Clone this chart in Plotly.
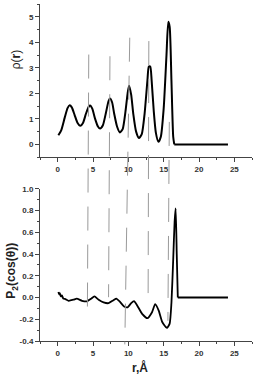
import plotly.graph_objects as go

# rho(r) panel
r_top = [0.1, 0.5, 1.0, 1.4, 1.7, 2.0, 2.4, 2.8, 3.2, 3.6, 4.0, 4.4, 4.6, 4.9, 5.3, 5.7, 6.0,
         6.4, 6.8, 7.2, 7.4, 7.7, 8.0, 8.4, 8.8, 9.2, 9.6, 9.9, 10.1, 10.4, 10.7, 11.1, 11.5,
         11.9, 12.3, 12.7, 12.9, 13.1, 13.3, 13.6, 13.9, 14.25, 14.6, 15.0, 15.4, 15.65, 15.85,
         16.1, 16.35, 16.5]
rho = [0.36, 0.55, 1.05, 1.42, 1.53, 1.45, 1.15, 0.85, 0.73, 0.85, 1.2, 1.48, 1.52, 1.4, 1.0, 0.7, 0.62,
       0.75, 1.2, 1.7, 1.8, 1.65, 1.2, 0.7, 0.47, 0.6, 1.3, 2.0, 2.3, 1.95, 1.2, 0.5, 0.25,
       0.4, 1.2, 2.5, 3.05, 3.05, 2.5, 1.3, 0.45, 0.1, 0.3, 1.4, 3.5, 4.8, 4.6,
       2.5, 0.3, 0.0]
r_top_flat = [16.5, 24.1]
rho_flat = [0.0, 0.0]

# P2(cos(theta)) panel
r_bot = [0.1, 0.2, 0.3, 0.45, 0.6, 0.8, 1.1, 1.55, 2.25, 2.7, 3.45, 4.15, 4.7, 5.2, 5.8, 6.5, 7.2,
         7.9, 8.3, 8.85, 9.4, 9.9, 10.4, 10.8, 11.25, 11.95, 12.7, 13.35, 13.8, 14.3, 14.8,
         15.45, 15.85, 16.1, 16.35, 16.55, 16.7, 16.85, 17.0]
p2 = [0.05, 0.03, 0.04, 0.01, 0.02, -0.01, -0.015, -0.03, -0.02, -0.01, -0.03, -0.035, -0.012, 0.01,
      -0.02, -0.045, -0.052, -0.025, -0.01, -0.042, -0.082, -0.09, -0.052, -0.033, -0.073, -0.15,
      -0.19, -0.135, -0.06, -0.12, -0.225, -0.28, -0.24, -0.05, 0.35, 0.7, 0.82, 0.4, 0.0]
r_bot_flat = [17.0, 24.1]
p2_flat = [0.0, 0.0]

# gray guide lines spanning both panels (r at top end, r at bottom end, paper y extent)
guide_r_top = [4.4, 7.4, 10.2, 12.9, 15.8]
guide_r_bottom = [4.2, 7.2, 9.5, 12.8, 15.6]
guide_y_top = [0.85, 0.845, 0.90, 0.89, 0.65]
guide_y_bottom = [0.07, 0.13, -0.01, 0.12, 0.06]

x_ticks = [0, 5, 10, 15, 20, 25]
top_y_ticks = [0, 1, 2, 3, 4, 5]
bot_y_ticks = [-0.4, -0.2, 0.0, 0.2, 0.4, 0.6, 0.8, 1.0]
bot_y_labels = ["-0.4", "-0.2", "0.0", "0.2", "0.4", "0.6", "0.8", "1.0"]

fig = go.Figure()
fig.add_trace(go.Scatter(x=r_top, y=rho, mode="lines", line=dict(color="black", width=2, shape="spline", smoothing=0.6),
                         xaxis="x", yaxis="y", showlegend=False, hoverinfo="skip"))
fig.add_trace(go.Scatter(x=r_top_flat, y=rho_flat, mode="lines", line=dict(color="black", width=2),
                         xaxis="x", yaxis="y", showlegend=False, hoverinfo="skip"))
fig.add_trace(go.Scatter(x=r_bot, y=p2, mode="lines", line=dict(color="black", width=1.8, shape="spline", smoothing=0.5),
                         xaxis="x2", yaxis="y2", showlegend=False, hoverinfo="skip"))
fig.add_trace(go.Scatter(x=r_bot_flat, y=p2_flat, mode="lines", line=dict(color="black", width=1.8),
                         xaxis="x2", yaxis="y2", showlegend=False, hoverinfo="skip"))

tickfont = dict(family="Liberation Sans, Arial", size=8, color="#333", weight="bold")
common_x = dict(range=[-2.5, 27.5], tickvals=x_ticks, ticks="outside", ticklen=4, tickwidth=1, tickcolor="#444",
                showline=True, linecolor="#444", linewidth=1, showgrid=False, zeroline=False,
                tickfont=tickfont, minor=dict(dtick=2.5, tick0=0, ticks="outside", ticklen=2, tickcolor="#444"))

fig.update_layout(
    width=273, height=382,
    margin=dict(l=40, r=21, t=0, b=41),
    paper_bgcolor="white", plot_bgcolor="white",
    xaxis=dict(domain=[0, 1], anchor="y", **common_x),
    yaxis=dict(domain=[0.5455, 1], range=[-0.5, 5.5], tickvals=top_y_ticks, ticks="outside", ticklen=4,
               tickcolor="#444", showline=True, linecolor="#444", linewidth=1, showgrid=False, zeroline=False,
               tickfont=tickfont, minor=dict(dtick=0.5, ticks="outside", ticklen=2, tickcolor="#444")),
    xaxis2=dict(domain=[0, 1], anchor="y2", **common_x),
    yaxis2=dict(domain=[0, 0.4516], range=[-0.4, 1.0], tickvals=bot_y_ticks, ticktext=bot_y_labels,
                ticks="outside", ticklen=4, tickcolor="#444", showline=True, linecolor="#444", linewidth=1,
                showgrid=False, zeroline=False, tickfont=tickfont,
                minor=dict(dtick=0.1, tick0=0, ticks="outside", ticklen=2, tickcolor="#444")),
)

shapes = []
for rt, rb, yt, yb in zip(guide_r_top, guide_r_bottom, guide_y_top, guide_y_bottom):
    shapes.append(dict(type="line", xref="x", yref="paper", x0=rt, x1=rb, y0=yt, y1=yb,
                       line=dict(color="#9a9a9a", width=1, dash="24px,14px"), layer="above"))
fig.update_layout(shapes=shapes)

title_font = dict(family="Liberation Sans, Arial", size=12, color="#222")
fig.add_annotation(text="ρ(<b>r</b>)", xref="paper", yref="paper", x=-0.115, y=0.835, textangle=-90,
                   showarrow=False, font=title_font, xanchor="center", yanchor="middle")
fig.add_annotation(text="<b>P<sub>2</sub>(cos(θ))</b>", xref="paper", yref="paper", x=-0.13, y=0.21, textangle=-90,
                   showarrow=False, font=title_font, xanchor="center", yanchor="middle")
fig.add_annotation(text="<b>r,Å</b>", xref="paper", yref="paper", x=0.47, y=-0.08,
                   showarrow=False, font=title_font, xanchor="center", yanchor="middle")

fig.write_html("out.html", config={"displayModeBar": False},
               post_script="document.body.style.margin='0';document.body.style.overflow='hidden';")
